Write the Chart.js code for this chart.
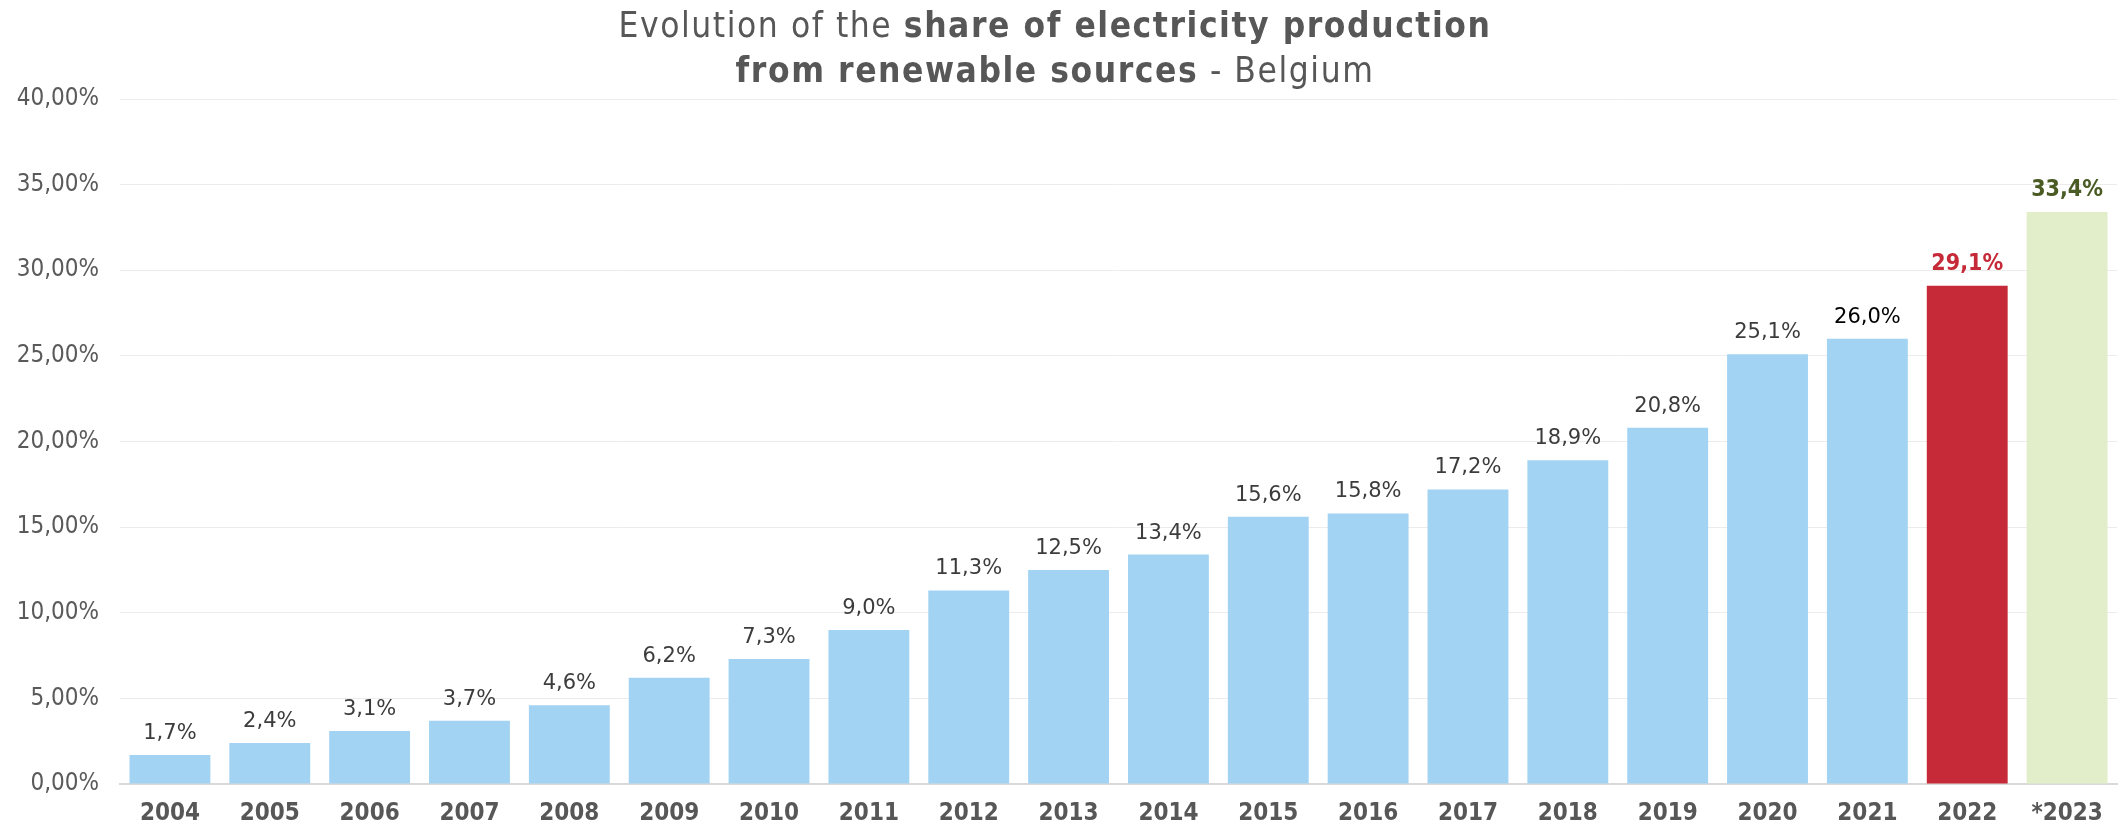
<!DOCTYPE html>
<html>
<head>
<meta charset="utf-8">
<script src="https://cdn.jsdelivr.net/npm/chart.js@4.4.1/dist/chart.umd.min.js"></script>
<style>
  html, body { margin: 0; padding: 0; background: #fff; }
  #wrap { width: 2128px; height: 826px; position: relative; }
</style>
</head>
<body>
<div id="wrap"><canvas id="chart"></canvas></div>
<script>
const years = ["2004", "2005", "2006", "2007", "2008", "2009", "2010", "2011", "2012", "2013",
               "2014", "2015", "2016", "2017", "2018", "2019", "2020", "2021", "2022", "*2023"];
const shares = [1.7, 2.4, 3.1, 3.7, 4.6, 6.2, 7.3, 9.0, 11.3, 12.5,
                13.4, 15.6, 15.8, 17.2, 18.9, 20.8, 25.1, 26.0, 29.1, 33.4];
const yMin = 0;
const yMax = 40;
const yStep = 5;

const COND = "'DejaVu Sans Condensed', 'DejaVu Sans', sans-serif";
const REG = "'DejaVu Sans', sans-serif";
const BLUE = "#a3d3f3";
const RED = "#c62a38";
const GREEN = "#e2edca";

// last two bars are highlighted
const barColors = years.map((y, i) => i === years.length - 1 ? GREEN : (i === years.length - 2 ? RED : BLUE));
const labelColors = years.map((y, i) => {
  if (i === years.length - 1) return "#4b5b24";
  if (i === years.length - 2) return "#c62a38";
  if (i === years.length - 3) return "#000";
  return "#3c3c3c";
});
const labelBold = years.map((y, i) => i >= years.length - 2);

function pct1(v) { return v.toFixed(1).replace(".", ",") + "%"; }
function pct2(v) { return v.toFixed(2).replace(".", ",") + "%"; }

const titleLines = [
  [["Evolution of the ", "normal"], ["share of electricity production", "bold"]],
  [["from renewable sources", "bold"], [" - Belgium", "normal"]]
];

const titlePlugin = {
  id: "richTitle",
  afterDraw(chart) {
    const ctx = chart.ctx;
    ctx.save();
    ctx.fillStyle = "#575757";
    ctx.textBaseline = "alphabetic";
    ctx.textAlign = "left";
    const cx = 1055;
    const baselines = [37, 82];
    const size = 35;
    // a little tracking so the first line is as wide as in the original
    let w0 = 0, n0 = 0;
    titleLines[0].forEach(([t, w]) => { ctx.font = w + " " + size + "px " + COND; w0 += ctx.measureText(t).width; n0 += t.length; });
    const spacing = Math.max(0, (873 - w0) / n0);
    ctx.letterSpacing = spacing.toFixed(2) + "px";
    titleLines.forEach((line, li) => {
      let total = 0;
      line.forEach(([t, w]) => { ctx.font = w + " " + size + "px " + COND; total += ctx.measureText(t).width; });
      let x = cx - total / 2;
      line.forEach(([t, w]) => {
        ctx.font = w + " " + size + "px " + COND;
        ctx.fillText(t, x, baselines[li]);
        x += ctx.measureText(t).width;
      });
    });
    ctx.restore();
  }
};

const valueLabels = {
  id: "valueLabels",
  afterDatasetsDraw(chart) {
    const ctx = chart.ctx;
    const meta = chart.getDatasetMeta(0);
    ctx.save();
    ctx.textAlign = "center";
    ctx.textBaseline = "alphabetic";
    meta.data.forEach((bar, i) => {
      ctx.font = labelBold[i] ? "bold 23px " + COND : "21px " + REG;
      ctx.fillStyle = labelColors[i];
      ctx.fillText(pct1(shares[i]), bar.x, bar.y - 16);
    });
    ctx.restore();
  }
};

new Chart(document.getElementById("chart"), {
  type: "bar",
  data: {
    labels: years,
    datasets: [{
      data: shares,
      backgroundColor: barColors,
      borderWidth: 0,
      barPercentage: 0.81,
      categoryPercentage: 1.0
    }]
  },
  options: {
    responsive: true,
    maintainAspectRatio: false,
    animation: false,
    layout: { padding: { top: 99, right: 11, left: 0, bottom: 0 } },
    plugins: {
      legend: { display: false },
      title: { display: false },
      tooltip: { enabled: false }
    },
    scales: {
      x: {
        grid: { display: false, drawTicks: false },
        border: { display: true, color: "#d9d9d9", width: 2 },
        ticks: {
          color: "#575757",
          font: { family: COND, size: 24, weight: "bold" },
          padding: 15,
          maxRotation: 0,
          autoSkip: false
        },
        afterFit(axis) { axis.height = 42; }
      },
      y: {
        min: yMin,
        max: yMax,
        grid: { color: "#ececec", lineWidth: 1, drawTicks: false },
        border: { display: false },
        ticks: {
          stepSize: yStep,
          color: "#5a5a5a",
          font: { family: COND, size: 24 },
          padding: 21,
          callback: v => pct2(v)
        },
        afterFit(axis) { axis.width = 120; }
      }
    }
  },
  plugins: [titlePlugin, valueLabels]
});
</script>
</body>
</html>
